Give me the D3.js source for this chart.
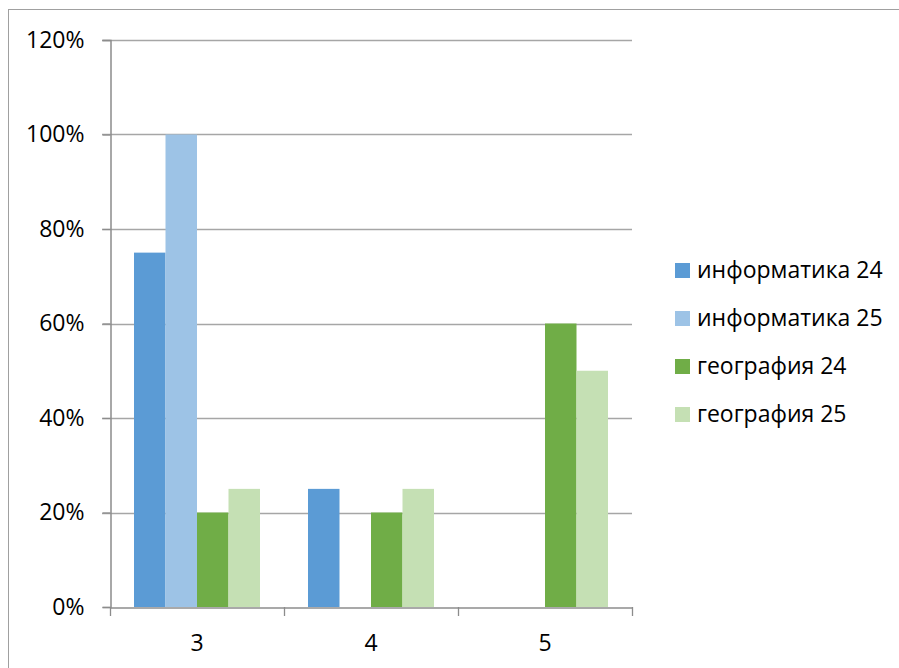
<!DOCTYPE html>
<html>
<head>
<meta charset="utf-8">
<script src="https://cdn.jsdelivr.net/npm/d3@7"></script>
<style>
  body { margin: 0; background: #fff; }
  text { font-family: "Open Sans", sans-serif; fill: #000; }
</style>
</head>
<body>
<svg id="chart" width="899" height="668"></svg>
<script>
const categories = ["3", "4", "5"];
const seriesNames = ["информатика 24", "информатика 25", "география 24", "география 25"];
const seriesColors = ["#5b9bd5", "#9dc3e6", "#70ad47", "#c5e0b4"];
// values in %, one list per series, in category order
const inform24 = [75, 25, 0];
const inform25 = [100, 0, 0];
const geo24 = [20, 20, 60];
const geo25 = [25, 25, 50];
const yTicks = [0, 20, 40, 60, 80, 100, 120];

const seriesValues = [inform24, inform25, geo24, geo25];
const FONT = "'Open Sans', sans-serif";
const FSIZE = "23px";

const svg = d3.select("#chart");

// outer chart border
svg.append("rect")
    .attr("x", 8.5).attr("y", 9.5)
    .attr("width", 1000).attr("height", 1000)
    .attr("fill", "none")
    .attr("stroke", "#a0a0a0")
    .attr("stroke-width", 1);

const plot = { left: 110, right: 632, top: 40, bottom: 607 };

const x0 = d3.scaleBand()
    .domain(categories)
    .range([plot.left, plot.right])
    .padding(0);

// 150% gap width -> bars in middle 126 of each 174 band
const groupPad = x0.bandwidth() * (48 / 174) / 2;
const x1 = d3.scaleBand()
    .domain(d3.range(seriesNames.length))
    .range([groupPad, x0.bandwidth() - groupPad])
    .padding(0);

const y = d3.scaleLinear()
    .domain([0, 120])
    .range([plot.bottom, plot.top]);

// gridlines
svg.append("g")
    .selectAll("line")
    .data(yTicks.filter(t => t > 0))
    .join("line")
    .attr("x1", plot.left - 8).attr("x2", plot.right)
    .attr("y1", d => Math.round(y(d)) + 0.5)
    .attr("y2", d => Math.round(y(d)) + 0.5)
    .attr("stroke", "#a6a6a6")
    .attr("stroke-width", 1.3);

// bars
const bars = [];
categories.forEach((cat, ci) => {
    seriesValues.forEach((vals, si) => {
        if (vals[ci] > 0) bars.push({ cat: cat, si: si, value: vals[ci] });
    });
});

svg.append("g")
    .selectAll("rect")
    .data(bars)
    .join("rect")
    .attr("x", d => x0(d.cat) + x1(d.si))
    .attr("width", x1.bandwidth())
    .attr("y", d => y(d.value))
    .attr("height", d => y(0) - y(d.value))
    .attr("fill", d => seriesColors[d.si]);

// y axis
const yAxis = svg.append("g")
    .attr("transform", `translate(${plot.left + 0.5},0)`)
    .call(d3.axisLeft(y).tickValues(yTicks).tickFormat(d => d + "%").tickSize(8).tickPadding(18));
yAxis.attr("font-family", null).attr("font-size", null);
yAxis.select(".domain").attr("stroke", "#8c8c8c").attr("stroke-width", 1.5);
yAxis.selectAll(".tick line").attr("stroke", "#8c8c8c").attr("stroke-width", 1.3);
yAxis.selectAll(".tick text")
    .style("font-family", FONT).style("font-size", FSIZE).attr("fill", "#000");

// x axis
const xAxis = svg.append("g")
    .attr("transform", `translate(0,${plot.bottom + 0.5})`)
    .call(d3.axisBottom(x0).tickSize(0).tickPadding(27));
xAxis.attr("font-family", null).attr("font-size", null);
xAxis.select(".domain").attr("stroke", "#8c8c8c").attr("stroke-width", 1.5);
xAxis.selectAll(".tick text")
    .style("font-family", FONT).style("font-size", FSIZE).attr("fill", "#000");

// category separator ticks
svg.append("g")
    .selectAll("line")
    .data(categories.map(c => x0(c)).concat([x0(categories[categories.length - 1]) + x0.bandwidth()]))
    .join("line")
    .attr("x1", d => Math.round(d) + 0.5).attr("x2", d => Math.round(d) + 0.5)
    .attr("y1", plot.bottom).attr("y2", plot.bottom + 9)
    .attr("stroke", "#8c8c8c").attr("stroke-width", 1.3);

// legend
const legend = svg.append("g")
    .selectAll("g")
    .data(seriesNames)
    .join("g")
    .attr("transform", (d, i) => `translate(675,${270 + i * 48})`);

legend.append("rect")
    .attr("x", 0).attr("y", -7)
    .attr("width", 15).attr("height", 15)
    .attr("fill", (d, i) => seriesColors[i]);

legend.append("text")
    .attr("x", 22).attr("y", 0)
    .attr("dy", "0.35em")
    .style("font-family", FONT).style("font-size", FSIZE)
    .text(d => d);
</script>
</body>
</html>
